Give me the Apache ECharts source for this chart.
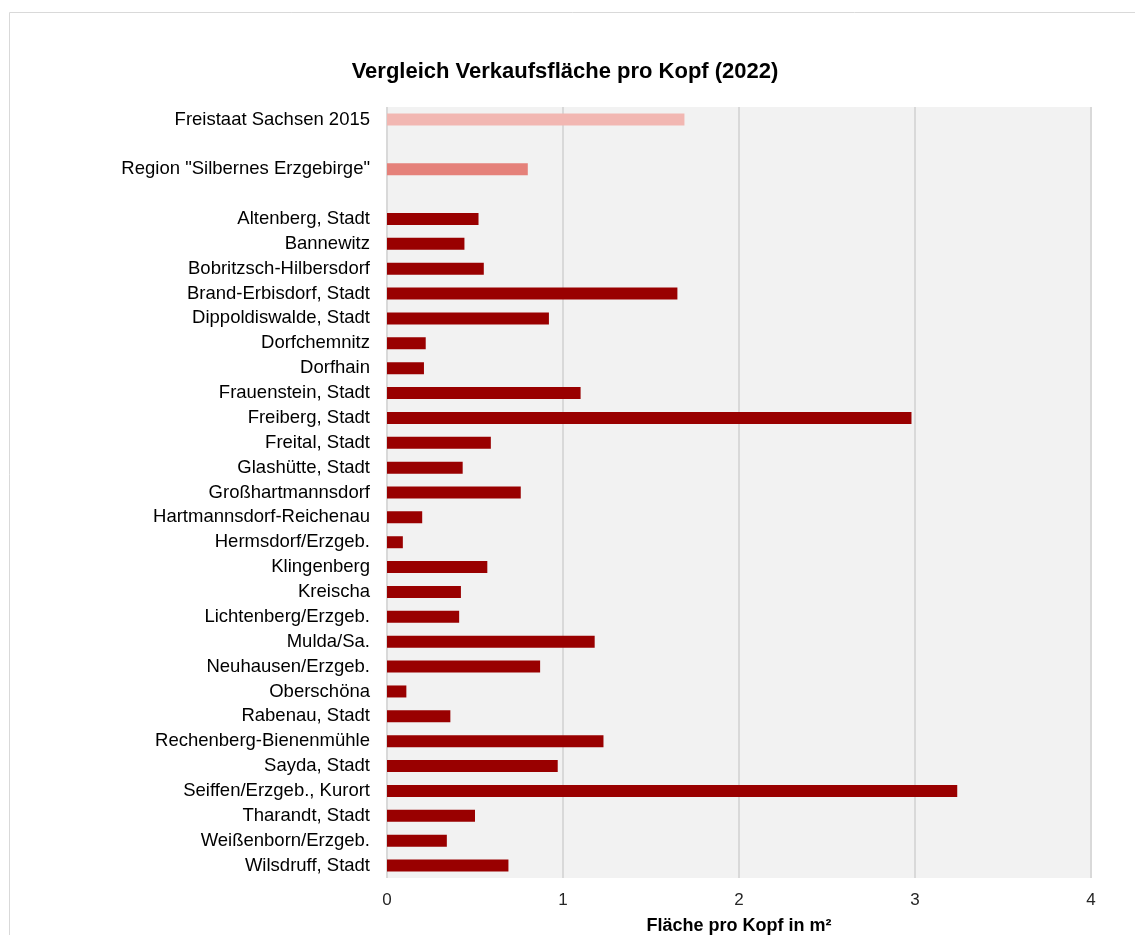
<!DOCTYPE html>
<html>
<head>
<meta charset="utf-8">
<script src="https://cdn.jsdelivr.net/npm/echarts@6/dist/echarts.min.js"></script>
<style>
  html, body { margin: 0; padding: 0; background: #fff; }
  #chart { width: 1135px; height: 935px; }
</style>
</head>
<body>
<div id="chart"></div>
<script>
// Kategorien von oben nach unten (leere Einträge = Abstandszeilen)
const categories = [
  "Freistaat Sachsen 2015", "",
  "Region \"Silbernes Erzgebirge\"", " ",
  "Altenberg, Stadt", "Bannewitz", "Bobritzsch-Hilbersdorf", "Brand-Erbisdorf, Stadt",
  "Dippoldiswalde, Stadt", "Dorfchemnitz", "Dorfhain", "Frauenstein, Stadt",
  "Freiberg, Stadt", "Freital, Stadt", "Glashütte, Stadt", "Großhartmannsdorf",
  "Hartmannsdorf-Reichenau", "Hermsdorf/Erzgeb.", "Klingenberg", "Kreischa",
  "Lichtenberg/Erzgeb.", "Mulda/Sa.", "Neuhausen/Erzgeb.", "Oberschöna",
  "Rabenau, Stadt", "Rechenberg-Bienenmühle", "Sayda, Stadt", "Seiffen/Erzgeb., Kurort",
  "Tharandt, Stadt", "Weißenborn/Erzgeb.", "Wilsdruff, Stadt"
];
// Verkaufsfläche pro Kopf in m²
const flaeche = [
  1.69, null,
  0.80, null,
  0.52, 0.44, 0.55, 1.65,
  0.92, 0.22, 0.21, 1.10,
  2.98, 0.59, 0.43, 0.76,
  0.20, 0.09, 0.57, 0.42,
  0.41, 1.18, 0.87, 0.11,
  0.36, 1.23, 0.97, 3.24,
  0.50, 0.34, 0.69
];
const xTicks = [0, 1, 2, 3, 4];

const font = "Liberation Sans, Arial, sans-serif";
const chart = echarts.init(document.getElementById("chart"));

chart.setOption({
  animation: false,
  graphic: [{
    type: "rect",
    shape: { x: 9.5, y: 12.5, width: 1140, height: 940 },
    style: { fill: "none", stroke: "#d9d9d9", lineWidth: 1 },
    silent: true
  }],
  title: {
    text: "Vergleich Verkaufsfläche pro Kopf (2022)",
    left: 560,
    textAlign: "center",
    top: 56,
    textStyle: { fontFamily: font, fontSize: 22, fontWeight: "bold", color: "#000" }
  },
  grid: {
    left: 387, right: 44, top: 107, bottom: 57,
    outerBoundsMode: "none",
    show: true, backgroundColor: "#f2f2f2", borderWidth: 0
  },
  xAxis: {
    type: "value",
    min: xTicks[0],
    max: xTicks[xTicks.length - 1],
    interval: 1,
    name: "Fläche pro Kopf in m²",
    nameLocation: "middle",
    nameGap: 39,
    nameTextStyle: { fontFamily: font, fontSize: 18, fontWeight: "bold", color: "#000" },
    axisLine: { show: false },
    axisTick: { show: false },
    axisLabel: { fontFamily: font, fontSize: 17, color: "#262626", margin: 14 },
    splitLine: { show: true, lineStyle: { color: "#d9d9d9", width: 2 } }
  },
  yAxis: {
    type: "category",
    data: categories,
    inverse: true,
    axisLine: { show: false },
    axisTick: { show: false },
    axisLabel: { fontFamily: font, fontSize: 18.5, color: "#000", margin: 17, interval: 0 }
  },
  series: [{
    type: "bar",
    data: flaeche,
    barWidth: 12,
    itemStyle: {
      color: function (p) {
        if (p.dataIndex === 0) return "#f2b7b2";
        if (p.dataIndex === 2) return "#e5817a";
        return "#990000";
      }
    }
  }]
});
</script>
</body>
</html>
